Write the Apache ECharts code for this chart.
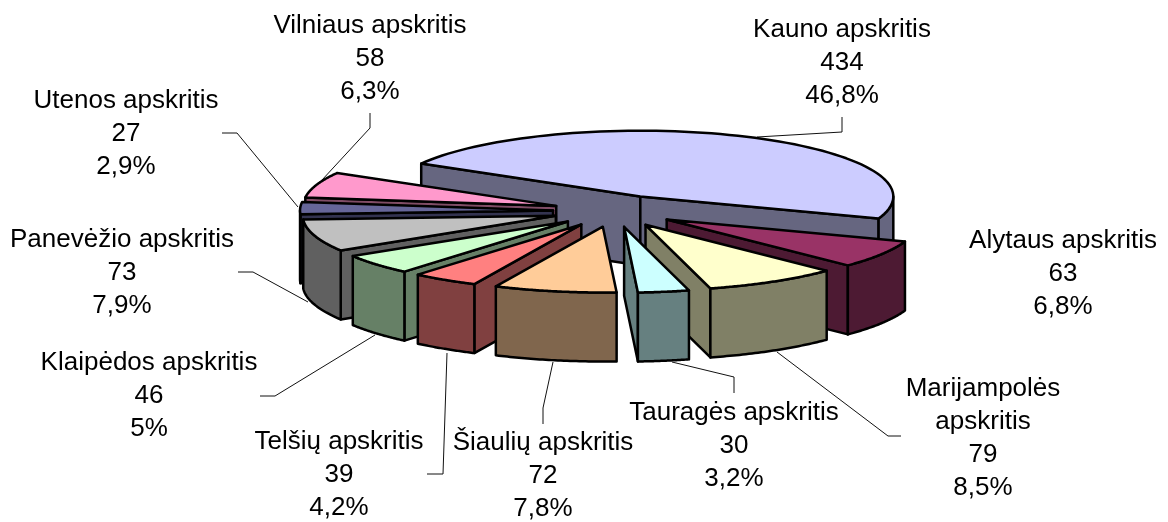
<!DOCTYPE html>
<html><head><meta charset="utf-8">
<style>html,body{margin:0;padding:0;background:#fff}#c{width:1168px;height:522px}</style>
<script src="https://cdn.jsdelivr.net/npm/echarts@6/dist/echarts.min.js"></script>
</head><body><div id="c"></div>
<script>
// Data
const categories = ['Kauno apskritis','Alytaus apskritis','Marijampolės\napskritis','Tauragės apskritis','Šiaulių apskritis','Telšių apskritis','Klaipėdos apskritis','Panevėžio apskritis','Utenos apskritis','Vilniaus apskritis'];
const values = [434,63,79,30,72,39,46,73,27,58];
const percents = ['46,8%','6,8%','8,5%','3,2%','7,8%','4,2%','5%','7,9%','2,9%','6,3%'];
const topColors = ['#CCCCFF','#993366','#FFFFCC','#CCFFFF','#FFCC99','#FF8080','#CCFFCC','#C0C0C0','#666699','#FF99CC'];
const sideColors = ['#666680','#4D1A33','#808066','#668080','#80664D','#804040','#668066','#606060','#333350','#804D66'];

// Layout of the pseudo-3D pie (pixel-valued axis units)
const pie = {cx:614.5, cy:211, R:253, tilt:0.26, depth:69, explode:61.5, startDeg:-60};
const labelCenters = [[842,63],[1063,274],[983,438.5],[734,446],[543,476],[339,475],[149,396],[122,273],[126,134],[370,59]];
const leaders = [
  [[757,137],[842,132],[842,117]],
  null,
  [[777,352],[888,436],[901,436]],
  [[672,362],[734,377],[734,393]],
  [[553,362],[543,408],[543,424]],
  [[447,353],[443,474],[427,474]],
  [[375,335],[275,396],[260,396]],
  [[308,302],[253,272],[238,272]],
  [[298,207],[237,133],[222,133]],
  [[322,180],[370,128],[370,113]]
];

const total = values.reduce((a,b)=>a+b,0);
const rad = d => d*Math.PI/180;
let acc = pie.startDeg;
const slices = values.map((v,i)=>{
  const a1 = acc, a2 = acc + v/total*360; acc = a2;
  return {i, a1, a2, mid:(a1+a2)/2};
});
// back-to-front painter's order
const paintOrder = slices.slice().sort((p,q)=>Math.cos(rad(q.mid))-Math.cos(rad(p.mid))).map(s=>s.i);

function sliceShapes(api, s){
  const ex = pie.explode*Math.sin(rad(s.mid)), ey = -pie.explode*pie.tilt*Math.cos(rad(s.mid));
  const ax = pie.cx+ex, ay = pie.cy+ey;
  const rim = (d,dz=0)=>[ax+pie.R*Math.sin(rad(d)), ay-pie.R*pie.tilt*Math.cos(rad(d))+dz];
  const P = p => api.coord(p);
  const stroke = {stroke:'#000', lineWidth:2.5, lineJoin:'round'};
  const poly = (pts,fill)=>({type:'polygon', shape:{points:pts.map(P)}, style:Object.assign({fill},stroke)});
  const out = [];
  const side = sideColors[s.i], top = topColors[s.i];
  const wall = d => poly([[ax,ay],rim(d),rim(d,pie.depth),[ax,ay+pie.depth]], side);
  if (Math.sin(rad(s.a1))<0) out.push(wall(s.a1));
  if (Math.sin(rad(s.a2))>0) out.push(wall(s.a2));
  // visible outer wall: the rim where it faces the viewer (90..270 deg)
  const lo = Math.max(s.a1,90), hi = Math.min(s.a2,270);
  if (hi>lo){
    const upper=[], lower=[];
    for(let k=0;k<=40;k++){ const d=lo+(hi-lo)*k/40; upper.push(rim(d)); lower.unshift(rim(d,pie.depth)); }
    out.push(poly(upper.concat(lower), side));
  }
  const topPts=[[ax,ay]];
  for(let k=0;k<=80;k++) topPts.push(rim(s.a1+(s.a2-s.a1)*k/80));
  out.push(poly(topPts, top));
  return out;
}

const chart = echarts.init(document.getElementById('c'), null, {renderer:'canvas'});
chart.setOption({
  animation:false,
  backgroundColor:'#fff',
  grid:{left:0,right:0,top:0,bottom:0},
  xAxis:{type:'value',min:0,max:1168,show:false},
  yAxis:{type:'value',min:0,max:522,inverse:true,show:false},
  series:[
    {
      type:'custom', coordinateSystem:'cartesian2d', silent:true, clip:false,
      data:paintOrder.map(i=>[i,values[i]]),
      encode:{x:0,y:1},
      renderItem:(params,api)=>({type:'group',children:sliceShapes(api,slices[api.value(0)])})
    },
    {
      type:'custom', coordinateSystem:'cartesian2d', silent:true, clip:false, z:1,
      data:categories.map((c,i)=>[i,values[i]]),
      encode:{x:0,y:1},
      renderItem:(params,api)=>{
        const i = api.value(0), children=[];
        if (leaders[i]) children.push({type:'polyline',shape:{points:leaders[i].map(p=>api.coord(p))},style:{fill:null,stroke:'#111',lineWidth:1}});
        return {type:'group',children};
      }
    },
    {
      type:'custom', coordinateSystem:'cartesian2d', silent:true, clip:false, z:3,
      data:categories.map((c,i)=>[i,values[i]]),
      encode:{x:0,y:1},
      renderItem:(params,api)=>{
        const i = api.value(0);
        const c = api.coord(labelCenters[i]);
        return {type:'text',x:c[0],y:c[1],style:{
          text:categories[i]+'\n'+values[i]+'\n'+percents[i],
          font:'26px "Liberation Sans", Arial, sans-serif',lineHeight:33,
          fill:'#000',align:'center',verticalAlign:'middle'}};
      }
    }
  ]
});
</script></body></html>
